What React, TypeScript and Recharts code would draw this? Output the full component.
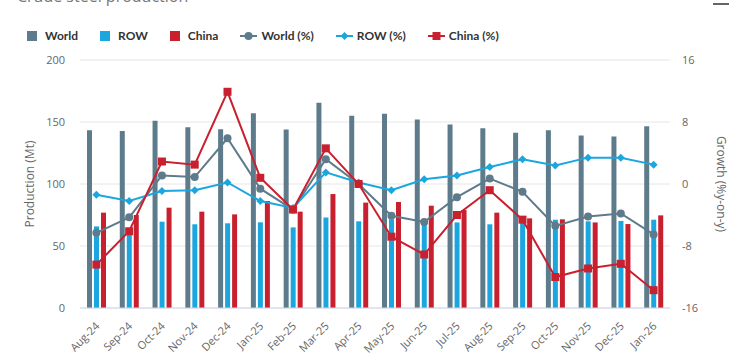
import { ComposedChart, Bar, Line, XAxis, YAxis, CartesianGrid } from 'recharts';

const months = ['Aug-24', 'Sep-24', 'Oct-24', 'Nov-24', 'Dec-24', 'Jan-25', 'Feb-25', 'Mar-25', 'Apr-25', 'May-25', 'Jun-25', 'Jul-25', 'Aug-25', 'Sep-25', 'Oct-25', 'Nov-25', 'Dec-25', 'Jan-26'];

// production, Mt
const worldMt = [143.3, 142.7, 151, 145.7, 144.1, 157, 144, 165.6, 155, 156.7, 152, 148, 145, 141.4, 143.3, 139.2, 138.4, 146.5];
const rowMt = [65.8, 64, 69.6, 67.5, 68.3, 69.1, 65, 73, 69.9, 71.5, 68, 69, 67.5, 71, 71.2, 69.9, 70.2, 71.2];
const chinaMt = [76.9, 75, 80.9, 77.7, 75.5, 86.3, 77.7, 91.9, 85, 85.5, 82.5, 79, 76.9, 72.3, 71.5, 69, 67.7, 74.7];

// growth, % y-on-y
const worldPct = [-6.3, -4.3, 1.1, 0.9, 5.9, -0.6, -3.3, 3.2, 0, -4.1, -4.9, -1.7, 0.7, -1.0, -5.4, -4.2, -3.8, -6.5];
const rowPct = [-1.4, -2.2, -0.9, -0.8, 0.2, -2.2, -3.1, 1.5, 0.2, -0.8, 0.6, 1.1, 2.2, 3.2, 2.4, 3.4, 3.4, 2.5];
const chinaPct = [-10.4, -6.1, 2.9, 2.5, 11.9, 0.8, -3.3, 4.6, 0, -6.8, -9.1, -4.0, -0.8, -4.6, -12.0, -10.9, -10.3, -13.7];

const leftTicks = [0, 50, 100, 150, 200];
const rightTicks = [-16, -8, 0, 8, 16];

const WORLD = '#5d7b8b';
const ROW = '#1ca6df';
const CHINA = '#c8202f';
const FONT = '"Open Sans", sans-serif';

const data = months.map((m, i) => ({
  month: m,
  world: worldMt[i],
  row: rowMt[i],
  china: chinaMt[i],
  worldPct: worldPct[i],
  rowPct: rowPct[i],
  chinaPct: chinaPct[i],
}));

const legendItems = [
  { name: 'World', color: WORLD, kind: 'bar' },
  { name: 'ROW', color: ROW, kind: 'bar' },
  { name: 'China', color: CHINA, kind: 'bar' },
  { name: 'World (%)', color: WORLD, kind: 'circle' },
  { name: 'ROW (%)', color: ROW, kind: 'diamond' },
  { name: 'China (%)', color: CHINA, kind: 'square' },
];

function Marker({ kind, cx, cy, color }: { kind: string; cx: number; cy: number; color: string }) {
  if (kind === 'circle') return <circle cx={cx} cy={cy} r={4} fill={color} />;
  if (kind === 'diamond')
    return <path d={`M${cx},${cy - 4}L${cx + 4},${cy}L${cx},${cy + 4}L${cx - 4},${cy}Z`} fill={color} />;
  return <rect x={cx - 4} y={cy - 4} width={8} height={8} fill={color} />;
}

const dotFor = (kind: string, color: string) => (p: any) => {
  if (p.cx == null || p.cy == null) return <g key={p.index} />;
  return <Marker key={p.index} kind={kind} cx={p.cx} cy={p.cy} color={color} />;
};

const MonthTick = ({ x, y, payload }: any) => (
  <g transform={`translate(${x + 1},${y + 8})`}>
    <text textAnchor="end" transform="rotate(-45)" dy={4} fill="#666" fontSize={11} fontFamily={FONT}>
      {payload.value}
    </text>
  </g>
);

function Legend() {
  return (
    <div style={{ position: 'absolute', left: 27, top: 28, display: 'flex', alignItems: 'center', fontFamily: 'Lato, sans-serif', fontWeight: 700, fontSize: 12, color: '#333' }}>
      {legendItems.map((it) => (
        <div key={it.name} style={{ display: 'flex', alignItems: 'center', marginRight: 22 }}>
          {it.kind === 'bar' ? (
            <span style={{ width: 10, height: 10, background: it.color, display: 'inline-block', marginRight: 8 }} />
          ) : (
            <svg width={17} height={10} style={{ marginRight: 4 }}>
              <line x1={0} y1={5} x2={17} y2={5} stroke={it.color} strokeWidth={2} />
              <Marker kind={it.kind} cx={8.5} cy={5} color={it.color} />
            </svg>
          )}
          <span>{it.name}</span>
        </div>
      ))}
    </div>
  );
}

export default function App() {
  return (
    <div style={{ position: 'absolute', left: 0, top: 0, width: 730, height: 356, overflow: 'hidden', background: '#fff' }}>
      <div style={{ position: 'absolute', left: 17, top: -12, fontFamily: FONT, fontSize: 16, lineHeight: '16px', color: '#777' }}>
        Crude steel production
      </div>
      <div style={{ position: 'absolute', left: 713, top: 3, width: 16, height: 2, background: '#666' }} />
      <Legend />
      <ComposedChart
        width={730}
        height={356}
        data={data}
        margin={{ top: 60, right: 0, left: 0, bottom: 0 }}
        barSize={5}
        barGap={2}
      >
        <CartesianGrid yAxisId="left" vertical={false} stroke="#e6e6e6" />
        <XAxis
          dataKey="month"
          height={48}
          interval={0}
          tick={<MonthTick />}
          tickLine={false}
          axisLine={{ stroke: '#ccd6eb' }}
        />
        <YAxis
          yAxisId="left"
          width={80}
          domain={[0, 200]}
          ticks={leftTicks}
          tickLine={false}
          axisLine={false}
          tickMargin={9}
          tick={{ fill: '#666', fontSize: 11, fontFamily: FONT }}
          label={{ value: 'Production (Mt)', angle: -90, position: 'center', dx: -10, fill: '#666', fontSize: 12, fontFamily: FONT }}
        />
        <YAxis
          yAxisId="right"
          orientation="right"
          width={60}
          domain={[-16, 16]}
          ticks={rightTicks}
          tickLine={false}
          axisLine={false}
          tickMargin={6}
          tick={{ fill: '#666', fontSize: 11, fontFamily: FONT }}
          label={{ value: 'Growth (%y-on-y)', angle: 90, position: 'center', dx: 21, fill: '#666', fontSize: 12, fontFamily: FONT }}
        />
        <Bar yAxisId="left" dataKey="world" fill={WORLD} isAnimationActive={false} />
        <Bar yAxisId="left" dataKey="row" fill={ROW} isAnimationActive={false} />
        <Bar yAxisId="left" dataKey="china" fill={CHINA} isAnimationActive={false} />
        <Line yAxisId="right" dataKey="worldPct" stroke={WORLD} strokeWidth={2} dot={dotFor('circle', WORLD)} activeDot={false} isAnimationActive={false} />
        <Line yAxisId="right" dataKey="rowPct" stroke={ROW} strokeWidth={2} dot={dotFor('diamond', ROW)} activeDot={false} isAnimationActive={false} />
        <Line yAxisId="right" dataKey="chinaPct" stroke={CHINA} strokeWidth={2} dot={dotFor('square', CHINA)} activeDot={false} isAnimationActive={false} />
      </ComposedChart>
    </div>
  );
}
